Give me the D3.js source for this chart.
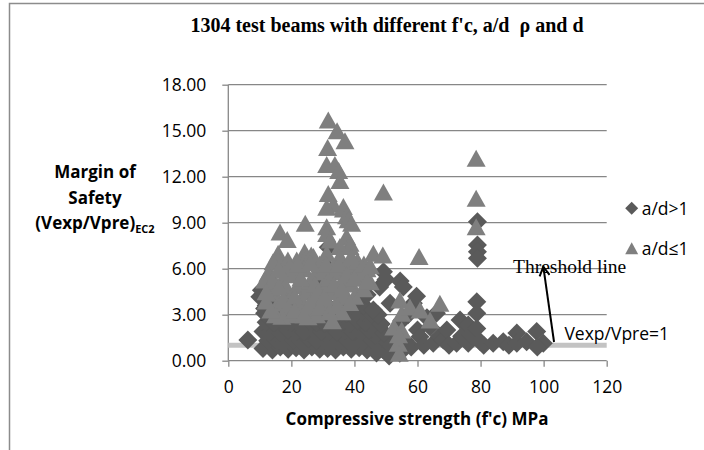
<!DOCTYPE html>
<html>
<head>
<meta charset="utf-8">
<script src="https://d3js.org/d3.v7.min.js"></script>
<style>
  body { margin: 0; background: #fff; }
  svg { display: block; }
</style>
</head>
<body>
<svg id="chart"></svg>
<script>
// chart size
const width = 704;
const height = 450;

// axis ticks
const xTicks = [0, 20, 40, 60, 80, 100, 120];
const yTicks = [0, 3, 6, 9, 12, 15, 18];
const seriesNames = ["a/d>1", "a/d\u22641"];

// a/d > 1 : [f'c, Vexp/Vpre]
const diamonds = [
  [11,0.8],[14,0.7],[16.5,0.9],[19,0.75],[21.5,0.85],[24,0.7],[26.5,0.9],[29,0.75],[31.5,0.8],[34,0.7],[36.5,0.9],[39,0.75],[41.5,0.85],[44,0.7],[46.5,0.8],[49,0.75],
  [12.5,1.3],[15,1.4],[18,1.25],[20.5,1.35],[23,1.3],[25.5,1.45],[28,1.3],[30.5,1.35],[33,1.25],[35.5,1.4],[38,1.3],[40.5,1.45],[43,1.3],[45.5,1.35],[48,1.4],[50.5,1.2],
  [11,1.9],[13.5,1.95],[16.5,1.85],[19,2.0],[21.5,1.9],[24,1.85],[27,2.0],[29.5,1.9],[32,1.95],[34.5,1.85],[37,2.0],[39.5,1.9],[42,1.85],[44.5,2.0],[47,1.9],[49.5,1.8],
  [12,2.5],[14.5,2.45],[17.5,2.55],[20,2.5],[22.5,2.45],[25.5,2.6],[28,2.5],[30.5,2.45],[33.5,2.55],[36,2.5],[38.5,2.45],[41,2.6],[43.5,2.5],[46,2.55],[48.5,2.4],
  [11.5,3.1],[14,3.05],[16.5,3.15],[19.5,3.0],[22,3.1],[24.5,3.2],[27.5,3.05],[30,3.1],[32.5,3.0],[35,3.15],[37.5,3.1],[40,3.05],[42.5,3.2],[45,3.1],[47.5,3.0],
  [12,3.6],[15.5,3.7],[19,3.55],[23,3.65],[27,3.6],[31,3.7],[35,3.55],[39,3.65],[43,3.6],[46,3.3],
  [6.2,1.35],[10,4.17],[10.5,4.6],[11.5,3.4],[13,4.3],[27,4.7],[30.5,5.2],[32,6.0],[31.7,7.4],[40.5,3.9],[41.7,4.07],[44,4.3],[48,4.8],[49.2,5.8],[50,5.3],[51.3,3.74],[54.5,5.2],[55.5,4.8],
  [47,0.5],[51,0.3],[52,1.0],[53,1.8],[54.4,0.48],[55,2.6],[56,1.3],[57,3.0],[58,0.9],[58.7,3.74],[59.7,4.2],[60,2.0],[60.8,1.57],[62,1.0],[63,2.8],[64,2.2],[65,1.13],[66,3.1],[67,1.6],[68.2,1.35],[69.3,2.0],[70,1.0],
  [72.4,1.13],[73.5,2.65],[74,1.6],[76.1,2.33],[76.1,1.13],[77,1.7],[78.8,3.85],[78.8,3.1],[78.8,2.1],[79.9,1.24],[79,9.07],[79,7.55],[79,7.1],[79,6.68],
  [81,1.0],[84,1.13],[87.2,1.24],[89,1.0],[91.5,1.8],[91.5,1.13],[94.6,1.24],[97.8,1.9],[99.9,1.13],[98,0.9]
];

// a/d <= 1
const triangles = [
  [31.7,15.7],[34.5,15.0],[37,14.35],[31.5,13.9],[31.2,12.8],[33.8,12.8],[35,12.4],[35.4,11.75],[31.7,10.9],[33.3,10.2],[31.2,10.0],[36.5,10.05],[36.5,9.9],[37.5,9.46],[38,9.2],[39.1,8.96],
  [31.2,8.74],[31.2,8.3],[32.3,7.87],[37.5,8.1],[38.6,7.66],[38.6,7.44],[35.4,7.44],[31.2,7.0],[35.4,6.8],[37.5,6.13],[33.3,6.13],
  [16.4,8.4],[18.7,7.9],[24.4,8.96],[15.8,7.0],[15.9,6.57],[14.2,6.46],[13.2,5.7],[12.6,5.7],[11.5,5.26],[18.9,6.57],[21.7,6.57],[24.2,7.1],[24.9,6.8],[26.3,6.9],[27,6.8],[21.6,5.9],
  [14.7,4.4],[15.8,3.74],[18.9,3.52],[25.3,3.3],[25.3,2.87],[29.5,4.17],[35.4,4.17],[31.2,3.74],[40.7,5.9],[45,5.15],
  [13,4.8],[14,5.2],[17,5.2],[18,5.9],[19,4.6],[20,5.6],[22,4.9],[23,4.0],[24,6.0],[25,4.5],[26,5.2],[27,4.2],[28,5.8],[29,6.3],[30,4.9],[30,5.8],
  [32,5.4],[33,4.5],[34,5.8],[36,5.2],[37,4.4],[38,6.3],[39,5.0],[40,4.2],[41,6.5],[42,5.4],[43,4.7],[44,6.0],[20,3.0],[22,3.6],[28,3.0],[33,2.6],[36,3.2],[17,2.9],[12,3.9],
  [15,3.0],[16,4.8],[17.5,4.0],[19.5,6.2],[21,4.2],[21,3.3],[23,5.4],[24,3.0],[26,3.8],[27.5,5.0],[28.5,4.5],[29,3.5],[30.5,4.2],[31,6.3],[32,3.2],[33.5,5.0],
  [34.5,3.6],[35,6.3],[36,4.7],[37.5,5.6],[38.5,3.8],[39,6.8],[40,5.4],[43,6.3],[44,5.2],[45,6.2],[13.5,3.3],[12,4.5],[16,6.0],[22,6.3],[26,6.4],
  [46,7.0],[49,6.9],[49.2,11.0],[60.5,6.8],[54.4,3.96],[55,3.1],[55,2.0],[53.9,1.13],[54.2,0.48],[57.6,3.5],[52.5,2.2],[54,1.7],[60.8,3.3],[64,2.65],[67.1,3.74],
  [78.6,13.2],[78.6,10.6],[78.6,8.74]
];

// Vexp/Vpre = 1 line and the annotation
const refLine = [[0, 1], [120, 1]];
const arrowFrom = [103.3, 1.22];
const arrowTo = [99.9, 6.13];
const thresholdText = [90.3, 5.72, "Threshold line"];
const refText = [106.6, 1.33, "Vexp/Vpre=1"];

const grey = "#878787";
const dColor = "#5a5a5a";
const tColor = "#7f7f7f";
const sans = "'Open Sans', sans-serif";
const serif = "'Liberation Serif', 'Times New Roman', serif";

var svg = d3.select("#chart").attr("width", width).attr("height", height);

var x = d3.scaleLinear().domain([0, 120]).range([228.3, 606.7]);
var y = d3.scaleLinear().domain([0, 18]).range([360.7, 84.7]);

// frame of the chart area
svg.append("path")
  .attr("d", "M9.5," + height + "V3.5H" + width)
  .attr("fill", "none").attr("stroke", "#8c8c8c").attr("stroke-width", 1.5);

// gridlines
svg.append("g").selectAll("line").data(yTicks.filter(d => d > 0)).join("line")
  .attr("x1", x(0)).attr("x2", x(120))
  .attr("y1", d => y(d)).attr("y2", d => y(d))
  .attr("stroke", grey).attr("stroke-width", 1.3);

// y axis
var yAxis = svg.append("g").attr("transform", "translate(" + x(0) + ",0)")
  .call(d3.axisLeft(y).tickValues(yTicks).tickFormat(d3.format(".2f")).tickSize(6).tickPadding(16));
yAxis.select(".domain").remove();
yAxis.selectAll("line").attr("stroke", grey).attr("stroke-width", 1.3);
yAxis.selectAll("text").attr("font-family", sans).attr("font-size", 17.5).attr("fill", "#000");
svg.append("line").attr("x1", x(0)).attr("x2", x(0)).attr("y1", y(0)).attr("y2", y(18))
  .attr("stroke", grey).attr("stroke-width", 1.3);

// x axis
var xAxis = svg.append("g").attr("transform", "translate(0," + y(0) + ")")
  .call(d3.axisBottom(x).tickValues(xTicks).tickFormat(d3.format("d")).tickSize(6).tickPadding(14));
xAxis.select(".domain").remove();
xAxis.selectAll("line").attr("stroke", grey).attr("stroke-width", 1.3);
xAxis.selectAll("text").attr("font-family", sans).attr("font-size", 17.5).attr("fill", "#000");
svg.append("line").attr("x1", x(0)).attr("x2", x(120)).attr("y1", y(0)).attr("y2", y(0))
  .attr("stroke", grey).attr("stroke-width", 1.3);

// reference line
svg.append("path").datum(refLine)
  .attr("d", d3.line().x(d => x(d[0])).y(d => y(d[1])))
  .attr("stroke", "#c3c3c3").attr("stroke-width", 5).attr("fill", "none");

// marker shapes
var diamondPath = function(r) { return "M0," + (-r) + "L" + r + ",0L0," + r + "L" + (-r) + ",0Z"; };
var trianglePath = function(w, h) { return "M0," + (-h / 2) + "L" + (w / 2) + "," + (h / 2) + "L" + (-w / 2) + "," + (h / 2) + "Z"; };

svg.append("g").selectAll("path").data(diamonds).join("path")
  .attr("transform", d => "translate(" + x(d[0]) + "," + y(d[1]) + ")")
  .attr("d", diamondPath(9.5)).attr("fill", dColor);

svg.append("g").selectAll("path").data(triangles).join("path")
  .attr("transform", d => "translate(" + x(d[0]) + "," + y(d[1]) + ")")
  .attr("d", trianglePath(19, 17)).attr("fill", tColor);

// arrow
svg.append("defs").append("marker").attr("id", "arrow")
  .attr("viewBox", "0 0 12 12").attr("refX", 10).attr("refY", 6)
  .attr("markerWidth", 12).attr("markerHeight", 12).attr("markerUnits", "userSpaceOnUse")
  .attr("orient", "auto")
  .append("path").attr("d", "M1,1L10,6L1,11").attr("fill", "none").attr("stroke", "#000").attr("stroke-width", 2);
svg.append("line")
  .attr("x1", x(arrowFrom[0])).attr("y1", y(arrowFrom[1]))
  .attr("x2", x(arrowTo[0])).attr("y2", y(arrowTo[1]))
  .attr("stroke", "#000").attr("stroke-width", 2).attr("marker-end", "url(#arrow)");

// annotations
svg.append("text").attr("x", x(thresholdText[0])).attr("y", y(thresholdText[1]))
  .attr("font-family", serif).attr("font-size", 19.5).text(thresholdText[2]);
svg.append("text").attr("x", x(refText[0])).attr("y", y(refText[1]))
  .attr("font-family", sans).attr("font-size", 17.5).text(refText[2]);

// title
svg.append("text").attr("x", 387).attr("y", 32).attr("text-anchor", "middle")
  .attr("font-family", serif).attr("font-weight", "bold").attr("font-size", 20)
  .text("1304 test beams with different f'c, a/d  \u03c1 and d")
  .style("white-space", "pre");

// axis titles
var yt = svg.append("text").attr("text-anchor", "middle").attr("font-family", sans)
  .attr("font-weight", "bold").attr("font-size", 17);
yt.append("tspan").attr("x", 95).attr("y", 178).text("Margin of");
yt.append("tspan").attr("x", 95).attr("y", 203.5).text("Safety");
var yt3 = yt.append("tspan").attr("x", 95).attr("y", 229);
yt3.append("tspan").text("(Vexp/Vpre)");
yt3.append("tspan").attr("dy", 4).attr("font-size", 11).text("EC2");

svg.append("text").attr("x", 417).attr("y", 425).attr("text-anchor", "middle")
  .attr("font-family", sans).attr("font-weight", "bold").attr("font-size", 17)
  .text("Compressive strength (f'c) MPa");

// legend
var legend = svg.append("g").attr("font-family", sans).attr("font-size", 17.5);
legend.append("path").attr("transform", "translate(631.7,208.3)").attr("d", diamondPath(6.5)).attr("fill", dColor);
legend.append("path").attr("transform", "translate(631.7,248.3)").attr("d", trianglePath(13, 12)).attr("fill", tColor);
legend.selectAll("text").data(seriesNames).join("text")
  .attr("x", 641.7).attr("y", (d, i) => 214.5 + i * 40).text(d => d);
</script>
</body>
</html>
